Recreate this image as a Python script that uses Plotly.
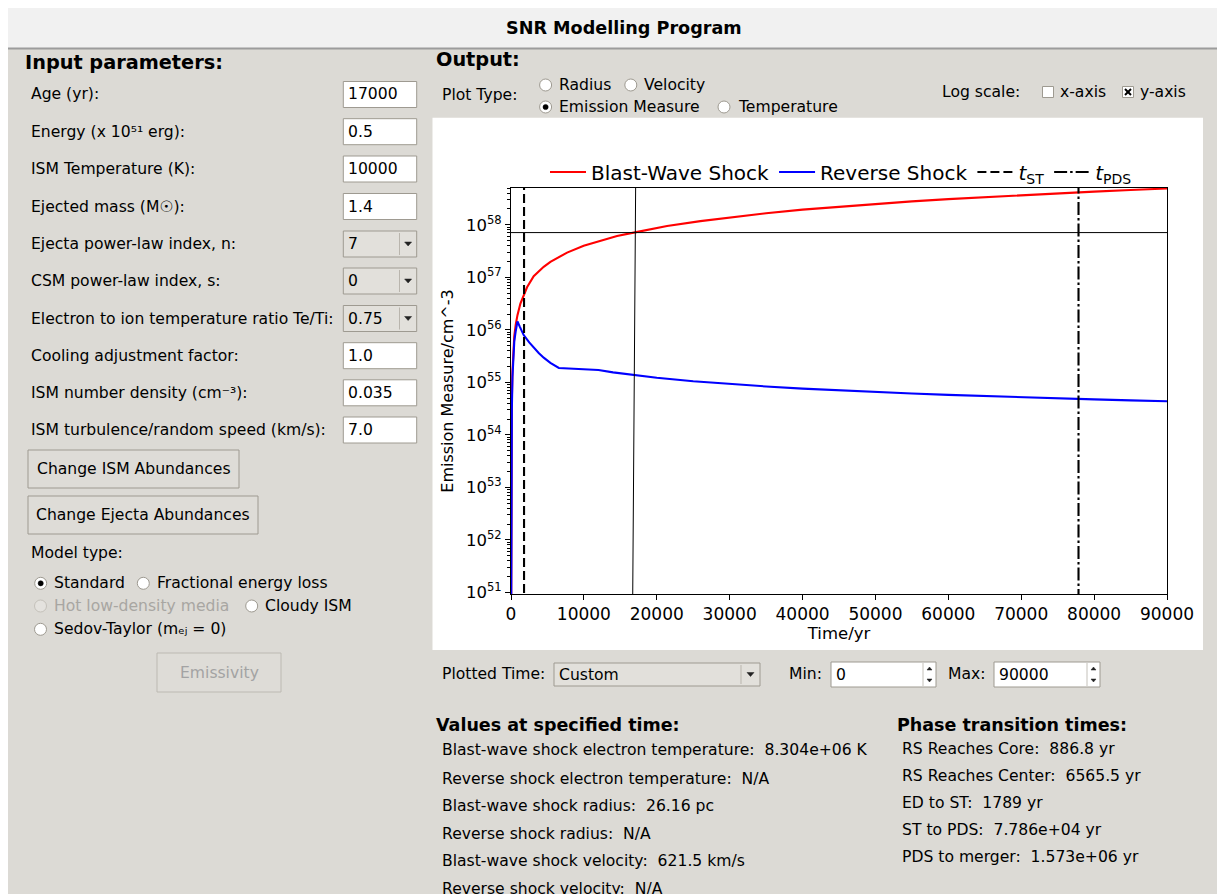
import plotly.graph_objects as go

# ---------------- data ----------------
time_bw = [20, 60, 120, 200, 300, 450, 650, 887, 1289, 1742, 2200, 3114, 4486, 5405, 7695,
           9973, 12260, 14550, 17000, 21410, 25980, 30000, 35000, 40000, 45000, 50000, 55000,
           60000, 65000, 70000, 75000, 80000, 85000, 90000]
em_bw = [3.2e50, 4.0e53, 5.0e54, 1.6e55, 3.5e55, 7.6e55, 1.26e56, 1.9e56, 3.16e56, 4.68e56,
         6.46e56, 1.05e57, 1.58e57, 1.97e57, 2.95e57, 3.98e57, 5.01e57, 6.1e57, 7.16e57, 9.44e57,
         1.175e58, 1.39e58, 1.66e58, 1.94e58, 2.21e58, 2.5e58, 2.79e58, 3.08e58, 3.37e58, 3.67e58,
         3.97e58, 4.28e58, 4.58e58, 4.9e58]

time_rs = [20, 60, 120, 200, 300, 450, 650, 887, 1200, 1742, 2500, 3114, 3800, 4486, 5400, 6565,
           8000, 10000, 12000, 14000, 17000, 20000, 25000, 30000, 35000, 40000, 45000, 50000,
           55000, 60000, 65000, 70000, 75000, 80000, 85000, 90000]
em_rs = [3.2e50, 2.5e53, 3.2e54, 1.26e55, 2.8e55, 6.0e55, 9.5e55, 1.45e56, 1.15e56, 7.94e55,
         5.75e55, 4.57e55, 3.63e55, 2.95e55, 2.34e55, 1.88e55, 1.85e55, 1.80e55, 1.72e55, 1.55e55,
         1.365e55, 1.22e55, 1.047e55, 9.27e54, 8.34e54, 7.6e54, 7.02e54, 6.53e54, 6.11e54,
         5.77e54, 5.46e54, 5.19e54, 4.95e54, 4.73e54, 4.54e54, 4.37e54]

t_st = 1789
t_pds = 77860
cursor_time = [16700, 17100]          # slightly slanted cursor line in the original
cursor_em = 7.1e57
y_log_range = [50.97, 58.70]
x_range = [0, 90000]

x_tick_vals = [0, 10000, 20000, 30000, 40000, 50000, 60000, 70000, 80000, 90000]
x_tick_text = ["0", "10000", "20000", "30000", "40000", "50000", "60000", "70000", "80000", "90000"]
y_tick_exps = [51, 52, 53, 54, 55, 56, 57, 58]

input_labels = ["Age (yr):", "Energy (x 10\u2075\u00b9 erg):", "ISM Temperature (K):",
                "Ejected mass (M\u2609):", "Ejecta power-law index, n:", "CSM power-law index, s:",
                "Electron to ion temperature ratio Te/Ti:", "Cooling adjustment factor:",
                "ISM number density (cm\u207b\u00b3):", "ISM turbulence/random speed (km/s):"]
input_values = ["17000", "0.5", "10000", "1.4", "7", "0", "0.75", "1.0", "0.035", "7.0"]
input_is_combo = [False, False, False, False, True, True, True, False, False, False]

values_lines = ["Blast-wave shock electron temperature:  8.304e+06 K",
                "Reverse shock electron temperature:  N/A",
                "Blast-wave shock radius:  26.16 pc",
                "Reverse shock radius:  N/A",
                "Blast-wave shock velocity:  621.5 km/s",
                "Reverse shock velocity:  N/A"]
phase_lines = ["RS Reaches Core:  886.8 yr",
               "RS Reaches Center:  6565.5 yr",
               "ED to ST:  1789 yr",
               "ST to PDS:  7.786e+04 yr",
               "PDS to merger:  1.573e+06 yr"]

# ---------------- geometry helpers (screen pixel coords; page body has 8px margin) ----------------
OFF = 8
FW, FH = 1217, 886
L, T, W, H = 503, 180, 656, 406
FONT = "DejaVu Sans"
BG = "#dcdad5"
BORDER = "#9e9a91"


def px(x):
    return (x - OFF - L) / W


def py(y):
    return 1 - (y - OFF - T) / H


shapes = []
annotations = []


def rect(x0, y0, x1, y1, fill=None, line=None, lw=1):
    shapes.append(dict(type="rect", xref="paper", yref="paper", layer="below",
                       x0=px(x0), x1=px(x1), y0=py(y1), y1=py(y0),
                       fillcolor=fill if fill else "rgba(0,0,0,0)",
                       line=dict(color=line if line else "rgba(0,0,0,0)", width=lw if line else 0)))


def seg(x0, y0, x1, y1, color, lw=1, layer="below"):
    shapes.append(dict(type="line", xref="paper", yref="paper", layer=layer,
                       x0=px(x0), x1=px(x1), y0=py(y0), y1=py(y1),
                       line=dict(color=color, width=lw)))


def circle(cx, cy, r, fill, line, lw=1):
    shapes.append(dict(type="circle", xref="paper", yref="paper", layer="below",
                       x0=px(cx - r), x1=px(cx + r), y0=py(cy + r), y1=py(cy - r),
                       fillcolor=fill, line=dict(color=line, width=lw)))


def tri(cx, cy, w=7, h=4, color="#222"):
    p = "M{},{} L{},{} L{},{} Z".format(px(cx - w / 2), py(cy - h / 2), px(cx + w / 2), py(cy - h / 2),
                                        px(cx), py(cy + h / 2))
    shapes.append(dict(type="path", xref="paper", yref="paper", layer="below", path=p,
                       fillcolor=color, line=dict(color=color, width=0.5)))


def tri_up(cx, cy, w=5, h=3, color="#222"):
    p = "M{},{} L{},{} L{},{} Z".format(px(cx - w / 2), py(cy + h / 2), px(cx + w / 2), py(cy + h / 2),
                                        px(cx), py(cy - h / 2))
    shapes.append(dict(type="path", xref="paper", yref="paper", layer="below", path=p,
                       fillcolor=color, line=dict(color=color, width=0.5)))


def text(x, y, s, size=15.6, color="black", bold=False, anchor="left"):
    s = s.replace("  ", " \u00a0")
    if bold:
        s = "<b>" + s + "</b>"
    annotations.append(dict(xref="paper", yref="paper", x=px(x), y=py(y), text=s, showarrow=False,
                            xanchor=anchor, yanchor="middle", borderpad=0,
                            font=dict(family=FONT, size=size, color=color)))


def radio(cx, cy, label, selected=False, enabled=True):
    circle(cx, cy, 6, "white" if enabled else "#e4e2de", BORDER if enabled else "#c4c1ba")
    if selected:
        circle(cx, cy, 2.6, "black", "black", 0.5)
    text(cx + 12.5, cy, label, color="black" if enabled else "#a8a6a2")


def entry(x0, x1, cy, value, h=26):
    rect(x0, cy - h / 2, x1, cy + h / 2, fill="white", line=BORDER)
    text(x0 + 3.5, cy, value)


def combo(x0, x1, cy, value, sep, h=26):
    rect(x0, cy - h / 2, x1, cy + h / 2, fill="#e2e0db", line=BORDER)
    seg(sep, cy - h / 2 + 2, sep, cy + h / 2 - 2, "#b9b5ad")
    tri((sep + x1) / 2, cy)
    text(x0 + 3.5, cy, value)


def button(x0, y0, x1, y1, label, enabled=True):
    rect(x0, y0, x1, y1, fill="#dedcd7", line=BORDER if enabled else "#bcb9b2")
    text((x0 + x1) / 2, (y0 + y1) / 2, label, color="black" if enabled else "#a3a3a3", anchor="center")


# ---------------- window chrome ----------------
rect(8, 8, FW + OFF + 2, 48, fill="#f1f1f1")
seg(8, 48.5, FW + OFF + 2, 48.5, "#9c9c9c", 2)
text(624, 27.5, "SNR Modelling Program", size=17.6, bold=True, anchor="center")

# ---------------- left panel ----------------
text(24, 62, "Input parameters:", size=19.3, bold=True)
row_y = [94.5, 131.7, 169, 206.5, 244, 281, 318.5, 355.7, 392.8, 430]
for lab, val, isc, yy in zip(input_labels, input_values, input_is_combo, row_y):
    text(30, yy, lab)
    if isc:
        combo(343.3, 416.7, yy, val, 399.5)
    else:
        entry(343.3, 416.7, yy, val)

button(28, 450, 239, 488, "Change ISM Abundances")
button(28, 496, 258, 534, "Change Ejecta Abundances")
text(30, 553, "Model type:")
radio(40.7, 583.3, "Standard", selected=True)
radio(143.3, 583.3, "Fractional energy loss")
radio(40.5, 606, "Hot low-density media", enabled=False)
radio(251.7, 606, "Cloudy ISM")
radio(40.5, 629.3, "Sedov-Taylor (m\u2091\u2c7c = 0)")
button(157, 653, 281, 692, "Emissivity", enabled=False)

# ---------------- right panel (top) ----------------
text(435, 60, "Output:", size=19.3, bold=True)
text(441, 95, "Plot Type:")
radio(545.6, 85, "Radius")
radio(630.8, 85, "Velocity")
radio(545.6, 107, "Emission Measure", selected=True)
radio(724, 107, "Temperature")
text(941, 92, "Log scale:")
rect(1042.5, 86.5, 1053.5, 97.5, fill="white", line=BORDER)
text(1059, 92, "x-axis")
rect(1122.5, 86.5, 1133.5, 97.5, fill="white", line=BORDER)
seg(1125, 89, 1131, 95, "black", 2)
seg(1125, 95, 1131, 89, "black", 2)
text(1139, 92, "y-axis")

# white figure canvas
rect(432.5, 117.7, 1203, 650, fill="white")

# ---------------- right panel (bottom) ----------------
text(441, 674, "Plotted Time:")
combo(554, 760, 674.5, "Custom", 741, h=23)
text(788, 674, "Min:")
entry(831, 936, 674.5, "0", h=25)
seg(923, 663, 923, 686, "#c4c1ba")
tri_up(929.5, 668.5)
tri(929.5, 680.5, 5, 3)
text(947, 674, "Max:")
entry(994, 1100, 674.5, "90000", h=25)
seg(1087, 663, 1087, 686, "#c4c1ba")
tri_up(1093.5, 668.5)
tri(1093.5, 680.5, 5, 3)

text(435, 725, "Values at specified time:", size=17.5, bold=True)
for s, yy in zip(values_lines, [750, 778.5, 806, 833.5, 861, 889]):
    text(441, yy, s)
text(896, 725, "Phase transition times:", size=17.5, bold=True)
for s, yy in zip(phase_lines, [749, 776, 802.5, 829.5, 857]):
    text(901, yy, s)

# ---------------- traces ----------------
fig = go.Figure()
fig.add_trace(go.Scatter(x=time_bw, y=em_bw, mode="lines", name="Blast-Wave Shock",
                         line=dict(color="#ff0000", width=2.1)))
fig.add_trace(go.Scatter(x=time_rs, y=em_rs, mode="lines", name="Reverse Shock",
                         line=dict(color="#0000ff", width=2.1)))
fig.add_trace(go.Scatter(x=[t_st, t_st], y=[1e50, 1e60], mode="lines", name="<i>t</i><sub>ST</sub>",
                         line=dict(color="black", width=2.1, dash="9px,4px")))
fig.add_trace(go.Scatter(x=[t_pds, t_pds], y=[1e50, 1e60], mode="lines", name="<i>t</i><sub>PDS</sub>",
                         line=dict(color="black", width=2.1, dash="13px,3px,2.5px,3px")))
fig.add_trace(go.Scatter(x=x_range, y=[cursor_em, cursor_em], mode="lines", showlegend=False,
                         line=dict(color="black", width=1), hoverinfo="skip"))
fig.add_trace(go.Scatter(x=cursor_time, y=[10 ** y_log_range[0], 10 ** y_log_range[1]], mode="lines",
                         showlegend=False, line=dict(color="black", width=1), hoverinfo="skip"))

minor_vals = [k * 10.0 ** e for e in range(50, 59) for k in range(2, 10)]

fig.update_layout(
    width=FW, height=FH, autosize=False,
    margin=dict(l=L, r=FW - L - W, t=T, b=FH - T - H, pad=0),
    paper_bgcolor=BG, plot_bgcolor="white",
    font=dict(family=FONT, color="black"),
    shapes=shapes, annotations=annotations,
    showlegend=True,
    legend=dict(orientation="h", x=px(545), y=py(172), xanchor="left", yanchor="middle",
                font=dict(family=FONT, size=20, color="black"), bgcolor="rgba(0,0,0,0)",
                itemwidth=36, tracegroupgap=0, borderwidth=0),
    xaxis=dict(range=x_range, tickmode="array", tickvals=x_tick_vals, ticktext=x_tick_text,
               ticks="outside", ticklen=5, tickwidth=1.1, tickcolor="black",
               showline=True, linecolor="black", linewidth=1.1, mirror=True,
               showgrid=False, zeroline=False, tickfont=dict(family=FONT, size=17, color="black"),
               title=dict(text="Time/yr", font=dict(family=FONT, size=16.5, color="black"), standoff=3)),
    yaxis=dict(type="log", range=y_log_range, tickmode="array",
               tickvals=[10.0 ** e for e in y_tick_exps],
               ticktext=["10<sup>%d</sup>" % e for e in y_tick_exps],
               ticks="outside", ticklen=5, tickwidth=1.1, tickcolor="black",
               minor=dict(tickmode="array", tickvals=minor_vals, ticks="outside", ticklen=3,
                          tickwidth=0.8, tickcolor="black", showgrid=False),
               showline=True, linecolor="black", linewidth=1.1, mirror=True,
               showgrid=False, zeroline=False, tickfont=dict(family=FONT, size=16.5, color="black"),
               title=dict(text="Emission Measure/cm^-3", font=dict(family=FONT, size=16, color="black"),
                          standoff=8)),
)

fig.write_html("out.html")
